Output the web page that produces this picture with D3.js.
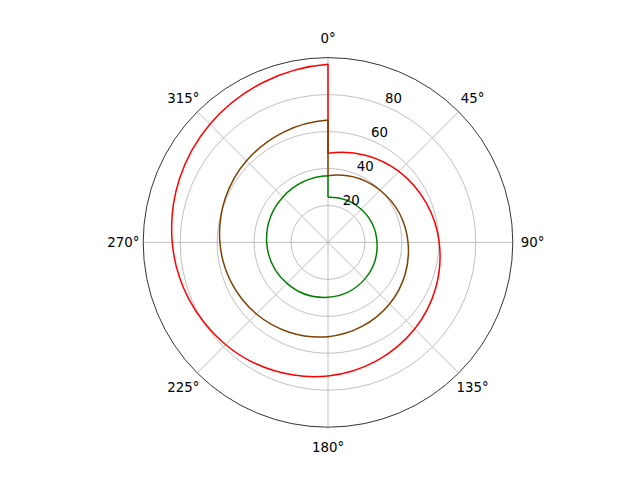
<!DOCTYPE html>
<html>
<head>
<meta charset="utf-8">
<script src="https://cdn.jsdelivr.net/npm/d3@7"></script>
<style>
  body { margin: 0; background: #fff; }
  svg { display: block; font-family: "DejaVu Sans", sans-serif; }
  .grid { fill: none; stroke: #b0b0b0; stroke-width: 0.8; }
  .lijn { fill: none; stroke-width: 1.5; stroke-linejoin: round; }
</style>
</head>
<body>
<script>
// hoeken in graden (met de klok mee, 0 boven)
var hoeken = [0, 45, 90, 135, 180, 225, 270, 315, 360];

var rood  = [48.2, 54.3, 60.2, 66.3, 72.3, 78.3, 84.3, 90.4, 96.4];
var bruin = [36.1, 39.9, 43.3, 47.1, 51.0, 54.8, 58.5, 62.4, 66.2];
var groen = [24.4, 25.4, 26.5, 28.1, 29.7, 31.4, 33.2, 34.6, 36.0];

// as labels
var rTicks = [20, 40, 60, 80];
var thetaTicks = [0, 45, 90, 135, 180, 225, 270, 315];
var rMax = 100;

var width = 640, height = 480;
var cx = 328, cy = 242.4, straal = 184.8;

var svg = d3.select("body").append("svg")
    .attr("width", width)
    .attr("height", height);

var g = svg.append("g")
    .attr("transform", "translate(" + cx + "," + cy + ")");

var r = d3.scaleLinear().domain([0, rMax]).range([0, straal]);
var hoek = d3.scaleLinear().domain([0, 360]).range([0, 2 * Math.PI]);

function px(h, w) { return r(w) * Math.sin(hoek(h)); }
function py(h, w) { return -r(w) * Math.cos(hoek(h)); }

// cirkels van het raster
g.selectAll(".rcirkel")
    .data(rTicks)
  .enter().append("circle")
    .attr("class", "grid")
    .attr("r", function(d) { return r(d); });

// spaken van het raster
g.selectAll(".spaak")
    .data(thetaTicks)
  .enter().append("line")
    .attr("class", "grid")
    .attr("x1", 0).attr("y1", 0)
    .attr("x2", function(d) { return px(d, rMax); })
    .attr("y2", function(d) { return py(d, rMax); });

// spiraal als boogjes tussen de punten, daarna een rechte sluitlijn
function spiraalPad(waarden) {
  var p = "M" + px(hoeken[0], waarden[0]) + "," + py(hoeken[0], waarden[0]);
  for (var i = 1; i < hoeken.length; i++) {
    var rr = (r(waarden[i - 1]) + r(waarden[i])) / 2;
    p += "A" + rr + "," + rr + " 0 0 1 " +
         px(hoeken[i], waarden[i]) + "," + py(hoeken[i], waarden[i]);
  }
  var laatst = hoeken[hoeken.length - 1];
  p += "L" + px(laatst, waarden[0]) + "," + py(laatst, waarden[0]);
  return p;
}

var reeksen = [
  {waarden: rood, kleur: "#ff0000"},
  {waarden: bruin, kleur: "#804000"},
  {waarden: groen, kleur: "#008000"}
];

g.selectAll(".lijn")
    .data(reeksen)
  .enter().append("path")
    .attr("class", "lijn")
    .attr("stroke", function(d) { return d.kleur; })
    .attr("d", function(d) { return spiraalPad(d.waarden); });

// buitenrand
g.append("circle")
    .attr("r", r(rMax))
    .attr("fill", "none")
    .attr("stroke", "#000")
    .attr("stroke-width", 0.8);

// hoek labels
g.selectAll(".hlabel")
    .data(thetaTicks)
  .enter().append("text")
    .attr("x", function(d) { return (straal + 19.8) * Math.sin(hoek(d)); })
    .attr("y", function(d) { return -(straal + 19.8) * Math.cos(hoek(d)); })
    .attr("dy", "0.36em")
    .attr("text-anchor", "middle")
    .attr("font-size", "13.33px")
    .attr("fill", "#000")
    .text(function(d) { return d + "°"; });

// straal labels op 22.5 graden
g.selectAll(".rlabel")
    .data(rTicks)
  .enter().append("text")
    .attr("x", function(d) { return px(22.5, d) + 9; })
    .attr("y", function(d) { return py(22.5, d) - 7.7; })
    .attr("dy", "0.36em")
    .attr("text-anchor", "middle")
    .attr("font-size", "13.33px")
    .attr("fill", "#000")
    .text(function(d) { return d; });
</script>
</body>
</html>
